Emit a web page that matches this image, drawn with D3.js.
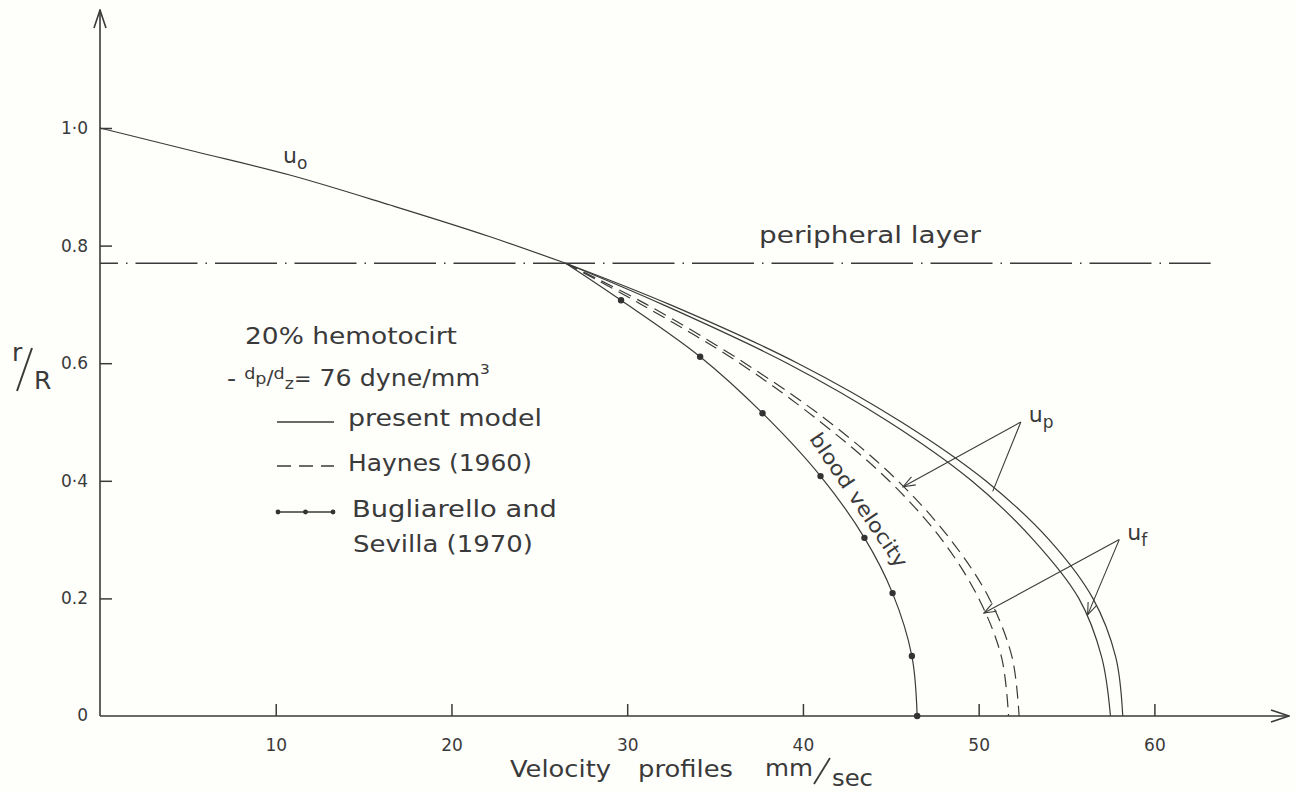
<!DOCTYPE html>
<html><head><meta charset="utf-8">
<script src="https://cdn.jsdelivr.net/npm/d3@7"></script>
<style>
html,body{margin:0;padding:0;background:#fefefb;}
svg{display:block;}
text{font-family:"DejaVu Sans",sans-serif;fill:#3a3a3a;}
</style>
</head><body>
<svg id="c" width="1296" height="792"></svg>
<script>
// ---------- data ----------
const xTicks = [10, 20, 30, 40, 50, 60];
const xTickLabels = ["10", "20", "30", "40", "50", "60"];
const yTicks = [0.2, 0.4, 0.6, 0.8, 1.0];
const yTickLabels = ["0.2", "0·4", "0.6", "0.8", "1·0"];
const peripheralR = 0.77;
const peripheralEnd = 63.2;

const uoV = [0, 5.4, 10.8, 16.5, 22.2, 26.5];
const uoR = [1.0, 0.96, 0.92, 0.869, 0.815, 0.77];

const profileR  = [0.77, 0.7, 0.6, 0.5, 0.4, 0.3, 0.2, 0.1, 0];
const presentUp = [26.5, 32.4, 39.7, 45.6, 50.4, 54.0, 56.5, 57.8, 58.2];
const presentUf = [26.5, 32.0, 39.1, 44.9, 49.6, 53.1, 55.7, 57.0, 57.5];
const haynesUp  = [26.5, 31.1, 36.7, 41.5, 45.4, 48.4, 50.6, 51.9, 52.3];
const haynesUf  = [26.5, 30.8, 36.4, 41.0, 44.9, 47.9, 50.0, 51.3, 51.7];

const bloodR = [0.77, 0.707, 0.611, 0.515, 0.408, 0.303, 0.209, 0.102, 0];
const bloodV = [26.5, 29.65, 34.15, 37.7, 41.0, 43.5, 45.1, 46.2, 46.5];

// annotation anchors (data units): label position, then targets [v, r, arrowhead]
const upLabel = [52.4, 0.50];
const upTargets = [[45.7, 0.39, true], [50.8, 0.382, false]];
const ufLabel = [58.0, 0.30];
const ufTargets = [[50.3, 0.175, true], [56.2, 0.172, true]];

// ---------- scales ----------
const svg = d3.select("#c");
const x = d3.scaleLinear().domain([0, 60]).range([100, 1154.4]);
const y = d3.scaleLinear().domain([0, 1]).range([716, 128]);
const ink = "#3a3a3a";

// text helper: stretch horizontally to the lettering width of the original
function label(str, tx, ty, size, width, rot) {
  const t = svg.append("text").attr("font-size", size).text(str);
  const w = t.node().getComputedTextLength();
  const s = width ? width / w : 1;
  t.attr("transform", `translate(${tx},${ty})${rot ? ` rotate(${rot})` : ""} scale(${s},1)`);
  return t;
}

// markers
const defs = svg.append("defs");
defs.append("marker").attr("id", "arr").attr("viewBox", "0 0 14 10")
  .attr("refX", 13).attr("refY", 5).attr("markerWidth", 14).attr("markerHeight", 10)
  .attr("markerUnits", "userSpaceOnUse").attr("orient", "auto")
  .append("path").attr("d", "M1,0.5 L13,5 L1,9.5").attr("fill", "none")
  .attr("stroke", ink).attr("stroke-width", 1.1);
defs.append("marker").attr("id", "axarr").attr("viewBox", "0 0 20 14")
  .attr("refX", 19).attr("refY", 7).attr("markerWidth", 20).attr("markerHeight", 14)
  .attr("markerUnits", "userSpaceOnUse").attr("orient", "auto")
  .append("path").attr("d", "M1,1 L19,7 L1,13").attr("fill", "none")
  .attr("stroke", ink).attr("stroke-width", 1.6);

// ---------- axes ----------
const gx = svg.append("g").attr("transform", `translate(0,${y(0)})`)
  .call(d3.axisBottom(x).tickValues(xTicks).tickFormat((d, i) => xTickLabels[i])
    .tickSizeInner(-12).tickSizeOuter(0).tickPadding(23));
gx.select(".domain").remove();
gx.selectAll(".tick line").attr("stroke", ink).attr("stroke-width", 1.5);
gx.selectAll(".tick text").attr("font-size", 17).attr("font-family", "DejaVu Sans").attr("fill", "#3a3a3a");

const gy = svg.append("g").attr("transform", `translate(${x(0)},0)`)
  .call(d3.axisLeft(y).tickValues(yTicks).tickFormat((d, i) => yTickLabels[i])
    .tickSizeInner(-12).tickSizeOuter(0).tickPadding(12));
gy.select(".domain").remove();
gy.selectAll(".tick line").attr("stroke", ink).attr("stroke-width", 1.5);
gy.selectAll(".tick text").attr("font-size", 17).attr("font-family", "DejaVu Sans").attr("fill", "#3a3a3a");
svg.append("text").attr("x", x(0) - 12).attr("y", y(0)).attr("dy", "0.32em")
  .attr("text-anchor", "end").attr("font-size", 17).text("0");

// axis lines with arrows
svg.append("line").attr("x1", x(0)).attr("y1", y(0)).attr("x2", 1289).attr("y2", y(0))
  .attr("stroke", ink).attr("stroke-width", 1.6).attr("marker-end", "url(#axarr)");
svg.append("line").attr("x1", x(0)).attr("y1", y(0)).attr("x2", x(0)).attr("y2", 10)
  .attr("stroke", ink).attr("stroke-width", 1.6).attr("marker-end", "url(#axarr)");

// ---------- peripheral layer ----------
svg.append("line").attr("x1", x(0)).attr("x2", x(peripheralEnd))
  .attr("y1", y(peripheralR)).attr("y2", y(peripheralR))
  .attr("stroke", ink).attr("stroke-width", 1.5).attr("stroke-dasharray", "62,8,1.5,8")
  .attr("stroke-dashoffset", 44);
label("peripheral layer", 759, 243, 23, 222);

// ---------- curves ----------
const lineX = d3.line().x(d => x(d[0])).y(d => y(d[1])).curve(d3.curveMonotoneX);
const lineC = d3.line().x(d => x(d[0])).y(d => y(d[1])).curve(d3.curveCatmullRom.alpha(0.5));

svg.append("path").datum(uoV.map((v, i) => [v, uoR[i]])).attr("d", lineX)
  .attr("fill", "none").attr("stroke", ink).attr("stroke-width", 1.2);

const profiles = [
  {v: presentUp, dash: null},
  {v: presentUf, dash: null},
  {v: haynesUp, dash: "13,7"},
  {v: haynesUf, dash: "13,7"}
];
profiles.forEach(p => {
  svg.append("path").datum(p.v.map((v, i) => [v, profileR[i]])).attr("d", lineC)
    .attr("fill", "none").attr("stroke", ink).attr("stroke-width", 1.2)
    .attr("stroke-dasharray", p.dash);
});

const bloodPts = bloodV.map((v, i) => [v, bloodR[i]]);
svg.append("path").datum(bloodPts).attr("d", lineC)
  .attr("fill", "none").attr("stroke", ink).attr("stroke-width", 1.2);
svg.selectAll(".bd").data(bloodPts.slice(1)).enter().append("circle")
  .attr("cx", d => x(d[0])).attr("cy", d => y(d[1])).attr("r", 3.2).attr("fill", "#333");

// blood velocity label (rotated along the curve)
(function () {
  const t = svg.append("text").attr("font-size", 20).attr("text-anchor", "middle").text("blood velocity");
  const w = t.node().getComputedTextLength();
  t.attr("transform", `translate(853,504) rotate(56) scale(${158 / w},1)`);
})();

// ---------- u labels & arrows ----------
const uo = svg.append("text").attr("x", 283).attr("y", 163).attr("font-size", 22);
uo.append("tspan").text("u");
uo.append("tspan").attr("font-size", 17).attr("dy", 6).text("o");

function annot(lbl, targets, sub) {
  const lx = x(lbl[0]), ly = y(lbl[1]);
  targets.forEach(t => {
    svg.append("line").attr("x1", lx).attr("y1", ly).attr("x2", x(t[0])).attr("y2", y(t[1]))
      .attr("stroke", ink).attr("stroke-width", 1.1)
      .attr("marker-end", t[2] ? "url(#arr)" : null);
  });
  const t = svg.append("text").attr("x", lx + 8).attr("y", ly).attr("font-size", 22);
  t.append("tspan").text("u");
  t.append("tspan").attr("font-size", 17).attr("dy", 6).text(sub);
}
annot(upLabel, upTargets, "p");
annot(ufLabel, ufTargets, "f");

// ---------- legend ----------
label("20% hemotocirt", 245, 344, 23, 212);

(function () {
  const t = svg.append("text").attr("font-size", 23);
  t.append("tspan").text("- ");
  t.append("tspan").attr("font-size", 16).attr("dy", -7).text("d");
  t.append("tspan").attr("font-size", 16).attr("dy", 5).text("p");
  t.append("tspan").attr("font-size", 19).attr("dy", 0).text("/");
  t.append("tspan").attr("font-size", 16).attr("dy", -5).text("d");
  t.append("tspan").attr("font-size", 16).attr("dy", 10).text("z");
  t.append("tspan").attr("font-size", 19).attr("dy", -4).text("=");
  t.append("tspan").attr("font-size", 23).attr("dy", 1).text(" 76 dyne/mm");
  t.append("tspan").attr("font-size", 14).attr("dy", -12).text("3");
  const w = t.node().getComputedTextLength();
  t.attr("transform", `translate(227,386) scale(${263 / w},1)`);
})();

const legX1 = 277, legX2 = 334;
svg.append("line").attr("x1", legX1).attr("x2", legX2).attr("y1", 422).attr("y2", 422)
  .attr("stroke", ink).attr("stroke-width", 1.3);
label("present model", 348, 426, 23, 194);
svg.append("line").attr("x1", legX1).attr("x2", legX2).attr("y1", 466).attr("y2", 466)
  .attr("stroke", ink).attr("stroke-width", 1.3).attr("stroke-dasharray", "14,8");
label("Haynes (1960)", 348, 471, 23, 184);
svg.append("line").attr("x1", legX1).attr("x2", legX2).attr("y1", 512).attr("y2", 512)
  .attr("stroke", ink).attr("stroke-width", 1.3);
svg.selectAll(".ld").data([legX1 + 1, (legX1 + legX2) / 2, legX2 - 1]).enter().append("circle")
  .attr("cx", d => d).attr("cy", 512).attr("r", 2.4).attr("fill", "#333");
label("Bugliarello and", 352, 517, 23, 205);
label("Sevilla (1970)", 353, 552, 23, 180);

// ---------- axis titles ----------
label("Velocity", 510, 777, 23, 101);
label("profiles", 638, 777, 23, 95);
label("mm", 765, 776, 23, 48);
svg.append("line").attr("x1", 814).attr("y1", 784).attr("x2", 830).attr("y2", 758)
  .attr("stroke", ink).attr("stroke-width", 1.8);
label("sec", 832, 786, 23, 41);

label("r", 12, 361, 25);
svg.append("line").attr("x1", 17).attr("y1", 391).attr("x2", 32).attr("y2", 348)
  .attr("stroke", ink).attr("stroke-width", 2);
label("R", 34, 389, 25);
</script>
</body></html>
